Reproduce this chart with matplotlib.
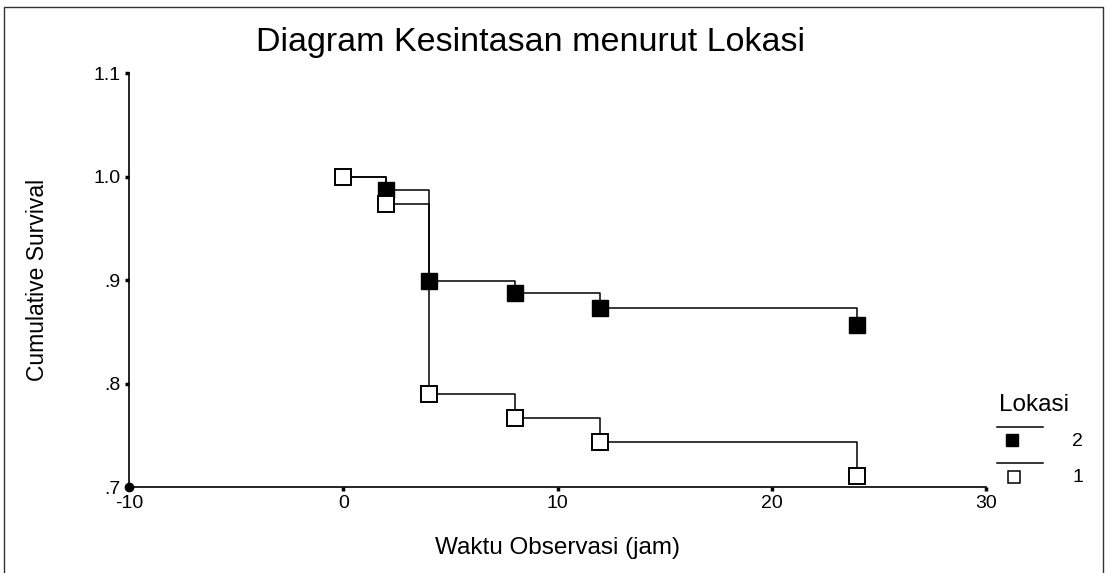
import matplotlib
matplotlib.use("Agg")
import matplotlib.pyplot as plt
from matplotlib.lines import Line2D

plt.rcParams['font.family'] = ['Liberation Sans', 'DejaVu Sans']
plt.rcParams['axes.unicode_minus'] = False

# Data
times2 = [0, 2, 4, 8, 12, 24]
surv2 = [1.0, 0.987, 0.899, 0.887, 0.873, 0.857]
marker_times2 = [2, 4, 8, 12, 24]
marker_surv2 = [0.987, 0.899, 0.887, 0.873, 0.857]

times1 = [0, 2, 4, 8, 12, 24]
surv1 = [1.0, 0.973, 0.790, 0.767, 0.743, 0.711]

xticks = [-10, 0, 10, 20, 30]
yticks = [0.7, 0.8, 0.9, 1.0, 1.1]
yticklabels = ['.7', '.8', '.9', '1.0', '1.1']

fig = plt.figure(figsize=(11.09, 5.73), dpi=100)
ax = fig.add_axes([129/1109, 1-487/573, (986-129)/1109, (487-73)/573])

ax.step(times2, surv2, where='post', color='black', lw=1.1, zorder=2)
ax.step(times1, surv1, where='post', color='black', lw=1.1, zorder=2)
ax.plot(marker_times2, marker_surv2, ls='none', marker='s', ms=11.5,
        mfc='black', mec='black', zorder=3)
ax.plot(times1, surv1, ls='none', marker='s', ms=11,
        mfc='white', mec='black', mew=1.4, zorder=4)

ax.set_xlim(-10, 30)
ax.set_ylim(0.7, 1.1)
ax.set_xticks(xticks)
ax.set_yticks(yticks)
ax.set_yticklabels(yticklabels)
ax.spines['top'].set_visible(False)
ax.spines['right'].set_visible(False)
ax.spines['left'].set_linewidth(1.2)
ax.spines['bottom'].set_linewidth(1.2)
ax.tick_params(length=3, width=2.5, direction='out', labelsize=14, pad=3)
ax.plot([-10], [0.7], marker='o', ms=6, color='black', clip_on=False, zorder=5)

ax.set_xlabel('Waktu Observasi (jam)', fontsize=17.5, labelpad=18)
ax.set_ylabel('Cumulative Survival', fontsize=16.5, labelpad=32)
fig.text(530/1109, 1-42/573, 'Diagram Kesintasan menurut Lokasi', fontsize=24.5,
         ha='center', va='center')

# legend (drawn manually)
W, H = 1109, 573
def fx(x): return x / W
def fy(y): return 1 - y / H
fig.text(fx(999), fy(405), 'Lokasi', fontsize=17.5, ha='left', va='center')
fig.add_artist(Line2D([fx(997), fx(1043)], [fy(427), fy(427)], color='black', lw=1.1))
fig.add_artist(Line2D([fx(1012)], [fy(440)], marker='s', ms=9, mfc='black', mec='black', ls='none'))
fig.text(fx(1072), fy(441), '2', fontsize=14, ha='left', va='center')
fig.add_artist(Line2D([fx(997), fx(1043)], [fy(463), fy(463)], color='black', lw=1.1))
fig.add_artist(Line2D([fx(1014)], [fy(477)], marker='s', ms=9, mfc='white', mec='black', mew=1.1, ls='none'))
fig.text(fx(1072), fy(478), '1', fontsize=14, ha='left', va='center')

# outer frame (left, top, right)
fig.add_artist(Line2D([fx(4), fx(4), fx(1103), fx(1103)],
                      [fy(573), fy(7), fy(7), fy(573)], color='#333333', lw=1.0))

fig.savefig('out.png', dpi=100)
